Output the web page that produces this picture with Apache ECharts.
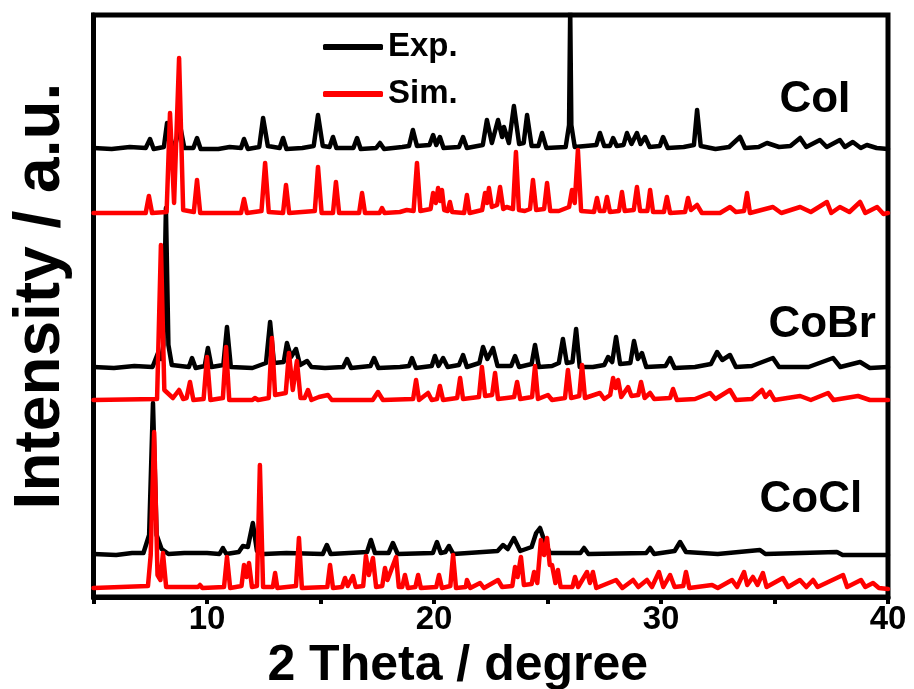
<!DOCTYPE html>
<html>
<head>
<meta charset="utf-8">
<script src="https://cdn.jsdelivr.net/npm/echarts@6/dist/echarts.min.js"></script>
<style>
html,body{margin:0;padding:0;background:#fff;}
#chart{width:914px;height:689px;}
</style>
</head>
<body>
<div id="chart"></div>
<script>
// 2-theta tick values shown on the x axis
var xTickLabels = [10, 20, 30, 40];
var samples = ['CoI', 'CoBr', 'CoCl'];
var seriesNames = ['Exp.', 'Sim.'];

// Patterns: [2theta, intensity (a.u., stacked as drawn)]
var coI_exp = [[5.0,447],[5.8,446],[6.6,448],[7.3,447],[7.49,456],[7.65,446],[8.1,448],[8.24,472],[8.45,452],[8.6,450],[8.81,470],[9.0,447],[9.4,447],[9.56,457],[9.72,446],[10.5,446],[11.0,448],[11.5,447],[11.63,456],[11.8,446],[12.3,448],[12.47,477],[12.68,449],[13.2,447],[13.35,457],[13.5,446],[14.2,447],[14.7,449],[14.89,480],[15.1,449],[15.4,448],[15.55,458],[15.7,447],[16.45,447],[16.61,457],[16.77,446],[17.45,447],[17.62,452],[17.8,446],[18.6,448],[18.9,449],[19.07,465],[19.25,449],[19.8,450],[19.96,460],[20.1,450],[20.26,458],[20.42,447],[21.1,448],[21.28,458],[21.45,447],[22.15,450],[22.33,475],[22.55,452],[22.82,475],[23.0,458],[23.08,468],[23.3,452],[23.52,489],[23.75,451],[23.95,452],[24.1,480],[24.3,449],[24.6,449],[24.76,462],[24.95,447],[25.8,448],[25.95,470],[26.0,585],[26.05,470],[26.2,448],[27.15,450],[27.31,462],[27.5,449],[27.75,449],[27.89,457],[28.05,449],[28.35,450],[28.5,462],[28.7,451],[28.94,462],[29.1,451],[29.3,458],[29.5,448],[29.95,449],[30.09,458],[30.3,447],[31.0,448],[31.45,450],[31.59,485],[31.75,449],[32.4,446],[33.0,448],[33.48,458],[33.7,447],[34.3,448],[34.67,452],[35.2,448],[35.7,449],[36.13,457],[36.4,448],[37.0,455],[37.3,448],[37.88,455],[38.1,448],[38.45,453],[38.8,447],[39.07,450],[39.5,447],[40,446]];

var coI_sim = [[5.0,382],[7.3,382],[7.44,399],[7.58,382],[8.22,383],[8.37,482],[8.55,392],[8.62,390],[8.77,537],[8.95,385],[9.42,383],[9.56,415],[9.7,382],[11.5,382],[11.63,396],[11.76,382],[12.4,384],[12.56,432],[12.72,383],[13.35,382],[13.48,410],[13.62,382],[14.75,384],[14.89,428],[15.05,382],[15.55,382],[15.68,413],[15.82,382],[16.7,382],[16.83,402],[16.96,382],[17.6,382],[17.71,387],[17.82,382],[18.5,383],[18.8,385],[19.1,384],[19.25,432],[19.4,384],[19.85,386],[19.96,402],[20.08,392],[20.18,407],[20.27,394],[20.35,405],[20.45,385],[20.6,384],[20.7,393],[20.8,383],[21.33,382],[21.45,400],[21.57,382],[22.12,385],[22.25,402],[22.34,392],[22.42,407],[22.55,388],[22.78,390],[22.91,408],[23.05,386],[23.2,388],[23.48,386],[23.61,443],[23.74,385],[24.0,384],[24.23,386],[24.36,415],[24.5,385],[24.85,386],[24.98,412],[25.12,384],[25.5,384],[25.95,388],[26.08,405],[26.2,392],[26.34,445],[26.48,384],[27.05,383],[27.18,397],[27.3,384],[27.5,384],[27.62,398],[27.75,383],[28.15,384],[28.28,403],[28.4,384],[28.8,385],[28.94,408],[29.08,384],[29.4,384],[29.52,405],[29.65,383],[30.13,383],[30.26,398],[30.4,382],[31.06,383],[31.19,397],[31.32,385],[31.59,390],[31.8,382],[32.6,382],[33.04,388],[33.3,383],[33.66,384],[33.79,402],[33.92,382],[34.93,388],[35.3,382],[36.13,388],[36.6,383],[37.31,393],[37.5,382],[37.88,388],[38.3,383],[38.77,393],[39.0,382],[39.52,388],[39.8,381],[40,382]];

var coBr_exp = [[5.0,228],[5.9,227],[6.8,229],[7.6,228],[7.84,242],[7.98,236],[8.08,250],[8.19,387],[8.3,250],[8.45,230],[9.2,228],[9.34,237],[9.5,227],[9.9,229],[10.04,247],[10.2,228],[10.72,230],[10.88,268],[11.05,228],[12.0,227],[12.6,232],[12.78,273],[12.95,232],[13.38,233],[13.52,252],[13.7,238],[13.92,246],[14.1,230],[14.41,234],[14.6,228],[15.2,227],[16.0,228],[16.17,236],[16.35,227],[17.2,229],[17.36,237],[17.55,227],[18.5,228],[18.9,229],[19.03,237],[19.2,227],[19.9,229],[20.04,239],[20.2,229],[20.4,237],[20.6,228],[21.1,230],[21.28,240],[21.45,228],[22.0,232],[22.16,248],[22.35,236],[22.6,247],[22.8,229],[23.4,229],[23.57,239],[23.75,228],[24.3,231],[24.45,250],[24.62,228],[25.2,229],[25.5,232],[25.68,256],[25.85,232],[26.1,233],[26.26,266],[26.42,228],[27.0,228],[27.5,230],[27.67,238],[27.85,233],[28.02,258],[28.2,231],[28.65,232],[28.81,254],[28.98,236],[29.16,242],[29.35,228],[30.2,229],[30.4,237],[30.6,227],[31.5,228],[32.2,231],[32.47,243],[32.7,235],[33.04,240],[33.3,228],[34.0,229],[34.93,237],[35.2,228],[36.5,228],[37.58,237],[37.9,228],[38.77,233],[39.2,227],[40,228]];

var coBr_sim = [[5.0,195],[7.8,196],[7.97,350],[8.12,205],[8.5,197],[8.77,205],[8.95,196],[9.1,197],[9.25,213],[9.4,195],[9.85,196],[10.0,238],[10.15,195],[10.7,197],[10.84,248],[10.98,195],[12.0,195],[12.11,197],[12.25,195],[12.72,197],[12.86,257],[13.0,200],[13.47,202],[13.61,242],[13.78,205],[13.96,234],[14.12,197],[14.3,197],[14.45,205],[14.6,195],[14.93,198],[15.33,200],[15.5,195],[17.3,195],[17.53,203],[17.75,195],[19.08,196],[19.21,215],[19.34,195],[19.74,202],[19.9,195],[20.13,196],[20.26,209],[20.4,195],[21.02,197],[21.15,217],[21.28,196],[21.98,198],[22.11,228],[22.25,199],[22.56,200],[22.69,222],[22.82,196],[23.2,197],[23.53,198],[23.66,213],[23.8,196],[24.32,198],[24.45,229],[24.58,196],[25.02,200],[25.2,195],[25.77,197],[25.9,225],[26.04,197],[26.4,199],[26.52,230],[26.65,197],[27.31,202],[27.5,196],[27.76,200],[27.89,217],[28.0,207],[28.11,215],[28.25,198],[28.55,208],[28.7,199],[29.0,200],[29.12,213],[29.28,197],[29.52,202],[29.7,196],[30.4,197],[30.53,206],[30.7,195],[31.5,196],[32.16,202],[32.4,196],[33.04,205],[33.3,195],[34.0,196],[34.45,205],[34.6,198],[34.8,203],[35.0,195],[36.13,199],[36.6,195],[37.36,202],[37.6,195],[38.68,199],[39.2,195],[40,195]];

var coCl_exp = [[5.0,41],[6.0,40],[6.7,42],[7.2,42],[7.45,60],[7.62,192],[7.78,60],[8.0,46],[8.06,48],[8.3,41],[9.0,42],[10.0,42],[10.55,41],[10.7,47],[10.85,41],[11.4,43],[11.58,49],[11.8,48],[12.02,72],[12.2,44],[12.5,41],[13.5,42],[15.1,41],[15.28,50],[15.45,41],[17.05,43],[17.22,55],[17.4,42],[18.0,42],[18.19,52],[18.4,41],[19.95,42],[20.13,53],[20.3,42],[20.5,43],[20.66,49],[20.85,41],[22.8,44],[23.04,50],[23.25,46],[23.52,57],[23.8,44],[24.3,48],[24.5,62],[24.67,67],[24.85,55],[25.1,42],[26.45,42],[26.61,47],[26.8,41],[29.35,42],[29.52,47],[29.7,41],[30.6,44],[30.84,53],[31.1,43],[32.5,41],[34.36,45],[34.6,41],[37.75,43],[38.0,40],[40,40]];

var coCl_sim = [[5.0,7],[7.4,9],[7.52,40],[7.67,163],[7.82,20],[7.95,15],[8.06,42],[8.2,8],[9.6,8],[9.69,10],[9.8,7],[10.75,8],[10.88,38],[11.02,7],[11.52,9],[11.63,30],[11.74,18],[11.85,32],[11.98,8],[12.2,9],[12.33,130],[12.47,8],[12.9,8],[13.0,22],[13.1,7],[13.92,9],[14.05,57],[14.18,7],[15.3,8],[15.42,30],[15.55,7],[15.95,8],[16.08,17],[16.2,9],[16.43,19],[16.55,8],[16.88,9],[17.0,39],[17.13,20],[17.31,37],[17.45,8],[17.72,9],[17.84,27],[17.95,15],[18.33,38],[18.45,8],[18.6,8],[18.72,20],[18.85,7],[19.18,8],[19.3,20],[19.42,7],[20.1,8],[20.22,20],[20.35,7],[20.72,9],[20.84,40],[20.97,7],[21.4,8],[21.45,15],[21.6,7],[22.03,12],[22.2,7],[22.82,15],[23.0,8],[23.45,9],[23.57,28],[23.68,18],[23.83,38],[23.96,10],[24.3,11],[24.41,23],[24.55,12],[24.71,55],[24.85,40],[24.98,57],[25.1,30],[25.2,30],[25.35,12],[25.46,25],[25.58,8],[26.1,8],[26.21,18],[26.35,8],[26.74,23],[26.87,12],[27.0,23],[27.15,7],[28.02,15],[28.3,7],[28.77,15],[29.0,8],[29.38,15],[29.6,8],[29.91,23],[30.1,8],[30.4,20],[30.6,8],[30.98,9],[31.1,23],[31.25,7],[32.25,10],[32.5,7],[33.13,15],[33.35,8],[33.66,23],[33.8,10],[34.05,18],[34.25,10],[34.49,22],[34.65,8],[35.37,17],[35.6,8],[36.12,15],[36.4,8],[36.7,15],[36.9,8],[38.02,20],[38.2,8],[38.81,15],[39.0,8],[39.34,12],[39.6,7],[40,6]];

var expData = [coI_exp, coBr_exp, coCl_exp];
var simData = [coI_sim, coBr_sim, coCl_sim];
// sample-name anchors in data units [2theta, intensity]
var labelAnchors = [[36.78, 495], [37.1, 270], [36.6, 95]];

var FONT = '"Liberation Sans", Arial, sans-serif';
var chart = echarts.init(document.getElementById('chart'), null, {renderer: 'canvas'});

function lineSeries(name, data, color, z) {
  return {
    name: name, type: 'line', data: data, showSymbol: false, symbol: 'none',
    smooth: false, clip: true, z: z, animation: false,
    color: color,
    lineStyle: {color: color, width: 4.5, join: 'round', cap: 'round'},
    emphasis: {disabled: true}
  };
}

var series = [];
for (var i = 0; i < expData.length; i++) series.push(lineSeries(seriesNames[0], expData[i], '#000000', 2));
for (var j = 0; j < simData.length; j++) series.push(lineSeries(seriesNames[1], simData[j], '#ff0000', 3));

series.push({
  type: 'scatter', name: 'labels', symbolSize: 0, silent: true, z: 5,
  itemStyle: {opacity: 1, color: '#000'},
  data: labelAnchors.map(function (c, k) { return {value: c, name: samples[k]}; }),
  label: {show: true, position: 'inside', opacity: 1, formatter: function (p) { return p.name; },
    color: '#000', fontFamily: FONT, fontWeight: 'bold', fontSize: 44}
});

chart.setOption({
  animation: false,
  backgroundColor: '#fff',
  grid: {left: 93.5, right: 26, top: 15, bottom: 92, show: true, borderColor: '#000', borderWidth: 5,
    containLabel: false, outerBoundsMode: 'none'},
  legend: {
    data: seriesNames, orient: 'vertical', left: 318, top: 24, itemGap: 11,
    itemWidth: 60, itemHeight: 6, icon: 'roundRect',
    textStyle: {fontFamily: FONT, fontWeight: 'bold', fontSize: 33, color: '#000', lineHeight: 36}
  },
  xAxis: {
    type: 'value', min: 5, max: 40, interval: 5,
    name: '2 Theta / degree', nameLocation: 'middle', nameGap: 27,
    nameTextStyle: {fontFamily: FONT, fontWeight: 'bold', fontSize: 50, color: '#000', padding: [0, 66, 0, 0]},
    axisLine: {show: true, onZero: false, lineStyle: {color: '#000', width: 5}},
    axisTick: {show: true, inside: false, length: 7, lineStyle: {color: '#000', width: 4}},
    splitLine: {show: false},
    axisLabel: {show: true, margin: 6, color: '#000', fontFamily: FONT, fontWeight: 'bold', fontSize: 33,
      showMinLabel: true, showMaxLabel: true,
      formatter: function (v) { return xTickLabels.indexOf(v) >= 0 ? String(v) : ''; }}
  },
  yAxis: {
    type: 'value', min: -2, max: 580,
    name: 'Intensity / a.u.', nameLocation: 'middle', nameGap: 20,
    nameTextStyle: {fontFamily: FONT, fontWeight: 'bold', fontSize: 64, color: '#000', padding: [0, 0, 0, 20]},
    axisLine: {show: true, onZero: false, lineStyle: {color: '#000', width: 5}},
    axisTick: {show: false}, axisLabel: {show: false}, splitLine: {show: false}
  },
  series: series
});
</script>
</body>
</html>
